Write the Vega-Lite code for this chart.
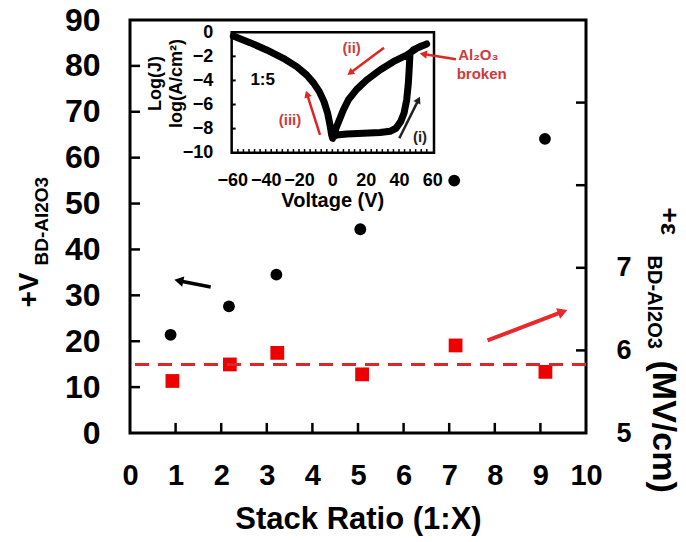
{
  "$schema": "https://vega.github.io/schema/vega-lite/v6.json",
  "width": 456,
  "height": 413,
  "autosize": {"type": "none"},
  "padding": {"left": 130, "top": 20, "right": 100, "bottom": 109},
  "background": "white",
  "config": {
    "font": "Liberation Sans",
    "view": {"stroke": "black", "strokeWidth": 3},
    "axis": {"grid": false, "domain": false, "ticks": false, "labelColor": "black", "titleColor": "black", "labelFontWeight": "bold", "titleFontWeight": "bold", "labelFlush": false, "labelOverlap": false}
  },
  "datasets": {
    "vbd": [
      {"ratio": 0.89, "v": 21.4}, {"ratio": 2.17, "v": 27.6}, {"ratio": 3.21, "v": 34.5},
      {"ratio": 5.05, "v": 44.4}, {"ratio": 7.11, "v": 55.0}, {"ratio": 9.10, "v": 64.1}
    ],
    "ebd": [
      {"ratio": 0.93, "e": 5.63}, {"ratio": 2.19, "e": 5.83}, {"ratio": 3.23, "e": 5.97},
      {"ratio": 5.09, "e": 5.71}, {"ratio": 7.14, "e": 6.06}, {"ratio": 9.11, "e": 5.74}
    ],
    "xticks": [{"t": 1}, {"t": 2}, {"t": 3}, {"t": 4}, {"t": 5}, {"t": 6}, {"t": 7}, {"t": 8}, {"t": 9}],
    "yticks": [{"t": 10}, {"t": 20}, {"t": 30}, {"t": 40}, {"t": 50}, {"t": 60}, {"t": 70}, {"t": 80}],
    "eticks": [{"t": 6}, {"t": 7}, {"t": 8}, {"t": 9}],
    "jticks": [{"t": -2}, {"t": -4}, {"t": -6}, {"t": -8}],
    "vticks": [
      {"t": -56.667}, {"t": -53.333}, {"t": -50}, {"t": -46.667}, {"t": -43.333}, {"t": -40}, {"t": -36.667}, {"t": -33.333},
      {"t": -30}, {"t": -26.667}, {"t": -23.333}, {"t": -20}, {"t": -16.667}, {"t": -13.333}, {"t": -10}, {"t": -6.667}, {"t": -3.333},
      {"t": 0}, {"t": 3.333}, {"t": 6.667}, {"t": 10}, {"t": 13.333}, {"t": 16.667}, {"t": 20}, {"t": 23.333}, {"t": 26.667},
      {"t": 30}, {"t": 33.333}, {"t": 36.667}, {"t": 40}, {"t": 43.333}, {"t": 46.667}, {"t": 50}, {"t": 53.333}, {"t": 56.667}
    ],
    "jv": [
      {"i": 0, "v": 0.2, "j": -8.72}, {"i": 1, "v": 2.6, "j": -8.53}, {"i": 2, "v": 8.6, "j": -8.44},
      {"i": 3, "v": 18.6, "j": -8.39}, {"i": 4, "v": 28.6, "j": -8.33}, {"i": 5, "v": 34.6, "j": -8.22},
      {"i": 6, "v": 38.2, "j": -7.97}, {"i": 7, "v": 41.0, "j": -7.42}, {"i": 8, "v": 43.0, "j": -6.73},
      {"i": 9, "v": 44.6, "j": -5.62}, {"i": 10, "v": 45.6, "j": -4.24}, {"i": 11, "v": 46.2, "j": -2.85},
      {"i": 12, "v": 46.6, "j": -1.75}, {"i": 13, "v": 48.6, "j": -1.47}, {"i": 14, "v": 52.6, "j": -1.19},
      {"i": 15, "v": 56.6, "j": -0.97}, {"i": 16, "v": 50.6, "j": -1.33}, {"i": 17, "v": 44.6, "j": -1.89},
      {"i": 18, "v": 36.6, "j": -2.44}, {"i": 19, "v": 28.6, "j": -3.13}, {"i": 20, "v": 20.6, "j": -3.96},
      {"i": 21, "v": 14.6, "j": -4.74}, {"i": 22, "v": 9.6, "j": -5.62}, {"i": 23, "v": 6.6, "j": -6.45},
      {"i": 24, "v": 4.2, "j": -7.28}, {"i": 25, "v": 2.2, "j": -7.97}, {"i": 26, "v": 1.0, "j": -8.53},
      {"i": 27, "v": 0.2, "j": -8.81}, {"i": 28, "v": -0.4, "j": -8.53}, {"i": 29, "v": -1.4, "j": -7.70},
      {"i": 30, "v": -2.8, "j": -6.73}, {"i": 31, "v": -5.0, "j": -5.76}, {"i": 32, "v": -7.8, "j": -4.93},
      {"i": 33, "v": -11.4, "j": -4.18}, {"i": 34, "v": -15.4, "j": -3.55}, {"i": 35, "v": -21.4, "j": -2.85},
      {"i": 36, "v": -29.4, "j": -2.16}, {"i": 37, "v": -39.4, "j": -1.47}, {"i": 38, "v": -49.4, "j": -0.86},
      {"i": 39, "v": -59.4, "j": -0.31}
    ],
    "insetArrows": [
      {"id": "ii", "v": 31.0, "j": -1.28, "hv": 10.69, "hj": -3.376},
      {"id": "iii", "v": -7.4, "j": -8.53, "hv": -15.17, "hj": -5.13},
      {"id": "i", "v": 40.2, "j": -8.8, "hv": 51.66, "hj": -5.61},
      {"id": "broken", "v": 74.2, "j": -2.24, "hv": 54.57, "hj": -1.80}
    ],
    "insetRedText": [
      {"t": "(ii)", "v": 11.6, "j": -1.28},
      {"t": "(iii)", "v": -25.4, "j": -7.28},
      {"t": "Al₂O₃", "v": 87.6, "j": -1.89},
      {"t": "broken", "v": 89.6, "j": -3.46}
    ]
  },
  "resolve": {"scale": {"x": "independent", "y": "independent"}},
  "layer": [
    {
      "data": {"name": "vbd"},
      "mark": {"type": "point", "shape": "circle", "filled": true, "color": "black", "opacity": 1, "size": 140},
      "encoding": {
        "x": {"field": "ratio", "type": "quantitative", "scale": {"domain": [0, 10]},
          "axis": {"orient": "bottom", "values": [0, 1, 2, 3, 4, 5, 6, 7, 8, 9, 10], "labelFontSize": 29, "labelPadding": 28,
            "title": "Stack Ratio (1:X)", "titleFontSize": 31, "titleX": 228, "titleY": 95, "titleAlign": "center", "titleBaseline": "alphabetic", "titleAngle": 0}},
        "y": {"field": "v", "type": "quantitative", "scale": {"domain": [0, 90]},
          "axis": {"orient": "left", "values": [0, 10, 20, 30, 40, 50, 60, 70, 80, 90], "labelFontSize": 32, "labelPadding": 30,
            "title": "+V", "titleFontSize": 28, "titleAngle": -90, "titleAlign": "left", "titleBaseline": "alphabetic", "titleX": -93, "titleY": 287}}
      }
    },
    {
      "data": {"name": "ebd"},
      "mark": {"type": "square", "color": "#ee0000", "opacity": 1, "size": 190},
      "encoding": {
        "x": {"field": "ratio", "type": "quantitative", "scale": {"domain": [0, 10]}, "axis": null},
        "y": {"field": "e", "type": "quantitative", "scale": {"domain": [5, 10]},
          "axis": {"orient": "right", "values": [5, 6, 7, 8, 9, 10], "labelFontSize": 27, "labelPadding": 30,
            "labelExpr": "datum.value <= 7 ? datum.label : ''",
            "title": "+ε", "titleFontSize": 26, "titleAngle": 90, "titleAlign": "left", "titleBaseline": "alphabetic", "titleX": 74, "titleY": 187}}
      }
    },
    {
      "data": {"name": "xticks"},
      "mark": {"type": "rule", "strokeWidth": 2.5, "color": "black"},
      "encoding": {
        "x": {"field": "t", "type": "quantitative", "scale": {"domain": [0, 10]}, "axis": null},
        "y": {"datum": 0, "type": "quantitative", "scale": {"domain": [0, 90]}, "axis": null},
        "y2": {"datum": 2.2}
      }
    },
    {
      "data": {"name": "yticks"},
      "mark": {"type": "rule", "strokeWidth": 2.5, "color": "black"},
      "encoding": {
        "x": {"datum": 0, "type": "quantitative", "scale": {"domain": [0, 10]}, "axis": null},
        "x2": {"datum": 0.22},
        "y": {"field": "t", "type": "quantitative", "scale": {"domain": [0, 90]}, "axis": null}
      }
    },
    {
      "data": {"name": "eticks"},
      "mark": {"type": "rule", "strokeWidth": 2.5, "color": "black"},
      "encoding": {
        "x": {"datum": 9.78, "type": "quantitative", "scale": {"domain": [0, 10]}, "axis": null},
        "x2": {"datum": 10},
        "y": {"field": "t", "type": "quantitative", "scale": {"domain": [5, 10]}, "axis": null}
      }
    },
    {
      "data": {"values": [{"e": 5.83}]},
      "mark": {"type": "rule", "color": "#dd2626", "strokeWidth": 3, "strokeDash": [14, 9]},
      "encoding": {
        "y": {"field": "e", "type": "quantitative", "scale": {"domain": [5, 10]},
          "axis": {"orient": "right", "labels": false, "title": "BD-Al2O3", "titleFontSize": 20, "titleAngle": 90, "titleAlign": "left", "titleBaseline": "alphabetic", "titleX": 61, "titleY": 235}}
      }
    },
    {
      "data": {"values": [{"x": 1.77, "y": 31.8, "hx": 1.07, "hy": 33.18}]},
      "mark": {"type": "rule", "color": "black", "strokeWidth": 3.5},
      "encoding": {
        "x": {"field": "x", "type": "quantitative", "scale": {"domain": [0, 10]}, "axis": null},
        "x2": {"field": "hx"},
        "y": {"field": "y", "type": "quantitative", "scale": {"domain": [0, 90]},
          "axis": {"orient": "left", "labels": false, "title": "BD-Al2O3", "titleFontSize": 19, "titleAngle": -90, "titleAlign": "left", "titleBaseline": "alphabetic", "titleX": -83, "titleY": 245}},
        "y2": {"field": "hy"}
      }
    },
    {
      "data": {"values": [{"hx": 1.07, "hy": 33.18}]},
      "mark": {"type": "point", "shape": "triangle-right", "filled": true, "color": "black", "opacity": 1, "size": 110, "angle": 191.4},
      "encoding": {
        "x": {"field": "hx", "type": "quantitative", "scale": {"domain": [0, 10]}, "axis": null},
        "y": {"field": "hy", "type": "quantitative", "scale": {"domain": [0, 90]}, "axis": null}
      }
    },
    {
      "data": {"values": [{"x": 7.84, "y": 6.12, "hx": 9.49, "hy": 6.468}]},
      "mark": {"type": "rule", "color": "#e8282a", "strokeWidth": 4},
      "encoding": {
        "x": {"field": "x", "type": "quantitative", "scale": {"domain": [0, 10]}, "axis": null},
        "x2": {"field": "hx"},
        "y": {"field": "y", "type": "quantitative", "scale": {"domain": [5, 10]},
          "axis": {"orient": "right", "labels": false, "title": "(MV/cm)", "titleFontSize": 34, "titleAngle": 90, "titleAlign": "left", "titleBaseline": "alphabetic", "titleX": 66, "titleY": 340}},
        "y2": {"field": "hy"}
      }
    },
    {
      "data": {"values": [{"hx": 9.49, "hy": 6.468}]},
      "mark": {"type": "point", "shape": "triangle-right", "filled": true, "color": "#e8282a", "opacity": 1, "size": 130, "angle": 339.3},
      "encoding": {
        "x": {"field": "hx", "type": "quantitative", "scale": {"domain": [0, 10]}, "axis": null},
        "y": {"field": "hy", "type": "quantitative", "scale": {"domain": [5, 10]}, "axis": null}
      }
    },
    {
      "data": {"values": [{"x": -60.4, "x2": 61, "y": -10, "y2": 0}]},
      "mark": {"type": "rect", "filled": false, "stroke": "black", "strokeWidth": 2.5},
      "encoding": {
        "x": {"field": "x", "type": "quantitative", "scale": {"domain": [-121.4, 152.2]}, "axis": null},
        "x2": {"field": "x2"},
        "y": {"field": "y", "type": "quantitative", "scale": {"domain": [-33.28, 1.02]}, "axis": null},
        "y2": {"field": "y2"}
      }
    },
    {
      "data": {"name": "vticks"},
      "mark": {"type": "rule", "strokeWidth": 1.5, "color": "black"},
      "encoding": {
        "x": {"field": "t", "type": "quantitative", "scale": {"domain": [-121.4, 152.2]}, "axis": null},
        "y": {"datum": -10, "type": "quantitative", "scale": {"domain": [-33.28, 1.02]}, "axis": null},
        "y2": {"datum": -9.7}
      }
    },
    {
      "data": {"name": "jticks"},
      "mark": {"type": "rule", "strokeWidth": 2, "color": "black"},
      "encoding": {
        "x": {"datum": -60.4, "type": "quantitative", "scale": {"domain": [-121.4, 152.2]}, "axis": null},
        "x2": {"datum": -58.0},
        "y": {"field": "t", "type": "quantitative", "scale": {"domain": [-33.28, 1.02]}, "axis": null}
      }
    },
    {
      "data": {"name": "jv"},
      "mark": {"type": "line", "color": "black", "strokeWidth": 7, "strokeCap": "round", "strokeJoin": "round"},
      "encoding": {
        "x": {"field": "v", "type": "quantitative", "scale": {"domain": [-121.4, 152.2]},
          "axis": {"orient": "bottom", "offset": -280.3, "values": [-60, -40, -20, 0, 20, 40, 60], "labelFontSize": 18, "labelPadding": 19,
            "title": "Voltage (V)", "titleFontSize": 20, "titleX": 202.3, "titleY": 54, "titleAlign": "center", "titleBaseline": "alphabetic", "titleAngle": 0}},
        "y": {"field": "j", "type": "quantitative", "scale": {"domain": [-33.28, 1.02]},
          "axis": {"orient": "left", "offset": -101.7, "values": [0, -2, -4, -6, -8, -10], "labelFontSize": 18, "labelPadding": 19,
            "title": ["Log(J)", "log(A/cm²)"], "titleFontSize": 18, "titleLineHeight": 21, "titleAngle": -90, "titleAlign": "center", "titleBaseline": "alphabetic", "titleX": -71.7, "titleY": 63}},
        "order": {"field": "i", "type": "quantitative"}
      }
    },
    {
      "data": {"values": [{"t": "1:5", "v": -41.8, "j": -3.96}]},
      "mark": {"type": "text", "font": "Liberation Sans", "fontWeight": "bold", "fontSize": 17, "color": "black", "align": "center", "baseline": "middle"},
      "encoding": {
        "x": {"field": "v", "type": "quantitative", "scale": {"domain": [-121.4, 152.2]}, "axis": null},
        "y": {"field": "j", "type": "quantitative", "scale": {"domain": [-33.28, 1.02]}, "axis": null},
        "text": {"field": "t"}
      }
    },
    {
      "data": {"values": [{"t": "(i)", "v": 52.6, "j": -8.67}]},
      "mark": {"type": "text", "font": "Liberation Sans", "fontWeight": "bold", "fontSize": 15, "color": "#222222", "align": "center", "baseline": "middle"},
      "encoding": {
        "x": {"field": "v", "type": "quantitative", "scale": {"domain": [-121.4, 152.2]}, "axis": null},
        "y": {"field": "j", "type": "quantitative", "scale": {"domain": [-33.28, 1.02]}, "axis": null},
        "text": {"field": "t"}
      }
    },
    {
      "data": {"name": "insetRedText"},
      "mark": {"type": "text", "font": "Liberation Sans", "fontWeight": "bold", "fontSize": 15, "color": "#d03a3a", "align": "center", "baseline": "middle"},
      "encoding": {
        "x": {"field": "v", "type": "quantitative", "scale": {"domain": [-121.4, 152.2]}, "axis": null},
        "y": {"field": "j", "type": "quantitative", "scale": {"domain": [-33.28, 1.02]}, "axis": null},
        "text": {"field": "t"}
      }
    },
    {
      "data": {"name": "insetArrows"},
      "transform": [{"filter": "datum.id != 'i'"}],
      "mark": {"type": "rule", "color": "#e02525", "strokeWidth": 2.5},
      "encoding": {
        "x": {"field": "v", "type": "quantitative", "scale": {"domain": [-121.4, 152.2]}, "axis": null},
        "x2": {"field": "hv"},
        "y": {"field": "j", "type": "quantitative", "scale": {"domain": [-33.28, 1.02]}, "axis": null},
        "y2": {"field": "hj"}
      }
    },
    {
      "data": {"name": "insetArrows"},
      "transform": [{"filter": "datum.id == 'i'"}],
      "mark": {"type": "rule", "color": "#222222", "strokeWidth": 2.5},
      "encoding": {
        "x": {"field": "v", "type": "quantitative", "scale": {"domain": [-121.4, 152.2]}, "axis": null},
        "x2": {"field": "hv"},
        "y": {"field": "j", "type": "quantitative", "scale": {"domain": [-33.28, 1.02]}, "axis": null},
        "y2": {"field": "hj"}
      }
    },
    {
      "data": {"name": "insetArrows"},
      "transform": [{"filter": "datum.id == 'ii'"}],
      "mark": {"type": "point", "shape": "triangle-right", "filled": true, "color": "#e02525", "opacity": 1, "size": 60, "angle": 143.4},
      "encoding": {
        "x": {"field": "hv", "type": "quantitative", "scale": {"domain": [-121.4, 152.2]}, "axis": null},
        "y": {"field": "hj", "type": "quantitative", "scale": {"domain": [-33.28, 1.02]}, "axis": null}
      }
    },
    {
      "data": {"name": "insetArrows"},
      "transform": [{"filter": "datum.id == 'iii'"}],
      "mark": {"type": "point", "shape": "triangle-right", "filled": true, "color": "#e02525", "opacity": 1, "size": 60, "angle": 252.5},
      "encoding": {
        "x": {"field": "hv", "type": "quantitative", "scale": {"domain": [-121.4, 152.2]}, "axis": null},
        "y": {"field": "hj", "type": "quantitative", "scale": {"domain": [-33.28, 1.02]}, "axis": null}
      }
    },
    {
      "data": {"name": "insetArrows"},
      "transform": [{"filter": "datum.id == 'i'"}],
      "mark": {"type": "point", "shape": "triangle-right", "filled": true, "color": "#222222", "opacity": 1, "size": 60, "angle": 296.5},
      "encoding": {
        "x": {"field": "hv", "type": "quantitative", "scale": {"domain": [-121.4, 152.2]}, "axis": null},
        "y": {"field": "hj", "type": "quantitative", "scale": {"domain": [-33.28, 1.02]}, "axis": null}
      }
    },
    {
      "data": {"name": "insetArrows"},
      "transform": [{"filter": "datum.id == 'broken'"}],
      "mark": {"type": "point", "shape": "triangle-right", "filled": true, "color": "#e02525", "opacity": 1, "size": 70, "angle": 189.1},
      "encoding": {
        "x": {"field": "hv", "type": "quantitative", "scale": {"domain": [-121.4, 152.2]}, "axis": null},
        "y": {"field": "hj", "type": "quantitative", "scale": {"domain": [-33.28, 1.02]}, "axis": null}
      }
    }
  ]
}
